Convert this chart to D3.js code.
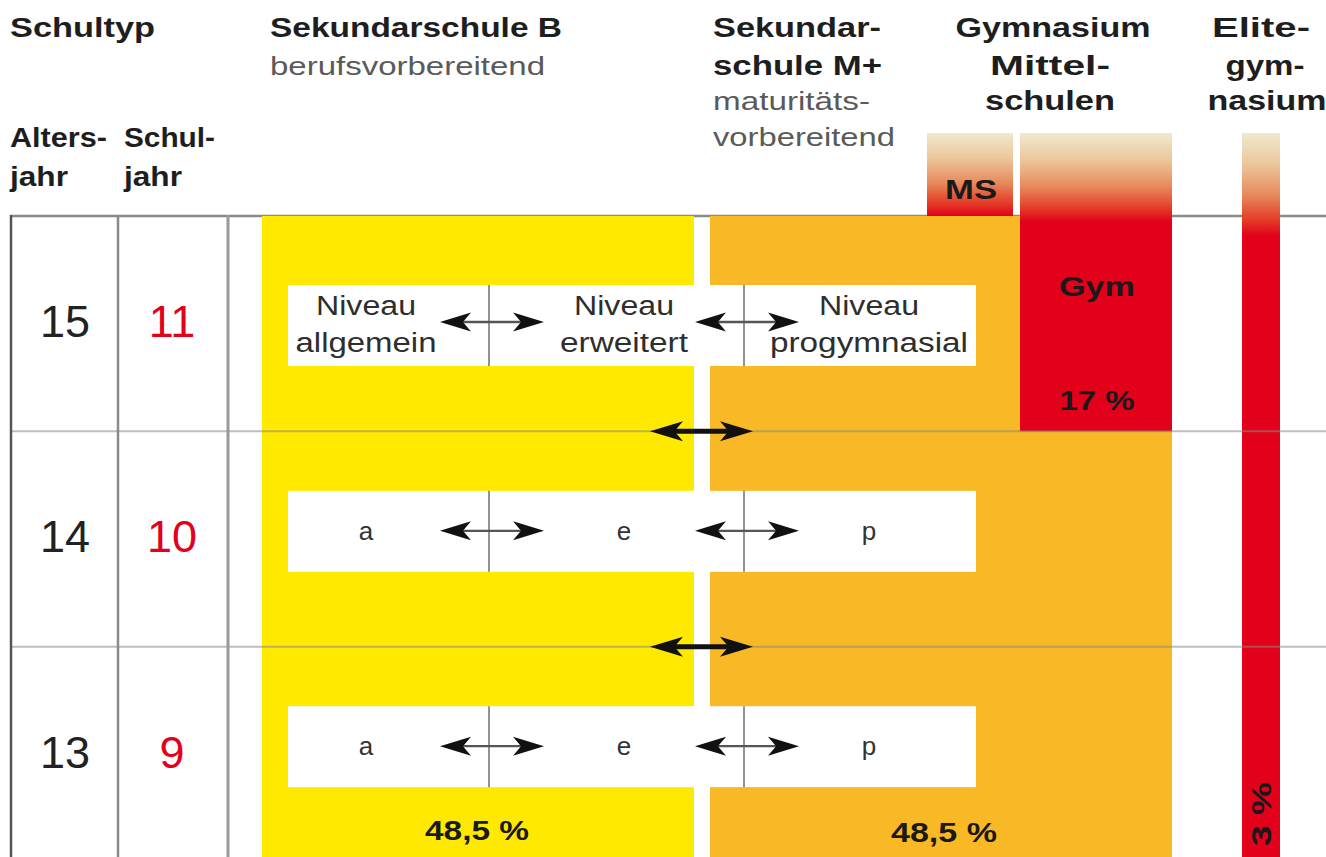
<!DOCTYPE html>
<html><head><meta charset="utf-8">
<script src="https://cdn.jsdelivr.net/npm/d3@7"></script>
<style>body{margin:0;background:#fff;overflow:hidden} svg{display:block}</style>
</head><body>
<svg id="chart" width="1326" height="857"></svg>
<script>
// ---- data ----
const ages = [15, 14, 13];
const schoolYears = [11, 10, 9];
const levelNames = [["Niveau", "allgemein"], ["Niveau", "erweitert"], ["Niveau", "progymnasial"]];
const levelShort = ["a", "e", "p"];
const schoolTypes = ["Sekundarschule B", "Sekundarschule M+", "Gymnasium", "Elitegymnasium"];
const shares = [48.5, 48.5, 17, 3];
const shareLabels = ["48,5 %", "48,5 %", "17 %", "3 %"];

// ---- setup ----
const W = 1326, H = 857;
const svg = d3.select("#chart");
const defs = svg.append("defs");
const y = d3.scaleBand().domain(ages).range([216, 862]);
const x = d3.scaleLinear().domain([0, W]).range([0, W]);

const YELLOW = "#ffe900", ORANGE = "#f9b825", RED = "#e2001a";
const FONT = "'Liberation Sans', Arial, Helvetica, sans-serif";

function grad(id, y1, y2) {
  const g = defs.append("linearGradient").attr("id", id)
    .attr("gradientUnits", "userSpaceOnUse")
    .attr("x1", 0).attr("x2", 0).attr("y1", y1).attr("y2", y2);
  [[0, "#f0e9cf"], [0.3, "#ecc79c"], [0.6, "#e78a5c"], [0.85, "#e43a26"], [1, RED]]
    .forEach(([o, c]) => g.append("stop").attr("offset", o).attr("stop-color", c));
}
grad("gMS", 133, 216);
grad("gGym", 133, 222);
grad("gElite", 133, 236);

// column geometry
const colB = { x0: 262, x1: 694 };
const colM = { x0: 710, x1: 1172 };
const colMS = { x0: 927, x1: 1013, top: 133 };
const colGym = { x0: 1020, x1: 1172, top: 133 };
const colElite = { x0: 1242, x1: 1280, top: 133 };
const rowTop = y(ages[0]);

// top line
svg.append("line").attr("x1", 10).attr("x2", W).attr("y1", rowTop).attr("y2", rowTop)
  .attr("stroke", "#8a8a8a").attr("stroke-width", 2.5);

// Sekundarschule B (yellow) & M+ (orange)
svg.append("rect").attr("x", x(colB.x0)).attr("y", rowTop)
  .attr("width", x(colB.x1) - x(colB.x0)).attr("height", H - rowTop).attr("fill", YELLOW);
svg.append("rect").attr("x", x(colM.x0)).attr("y", rowTop)
  .attr("width", x(colM.x1) - x(colM.x0)).attr("height", H - rowTop).attr("fill", ORANGE);

// MS box
svg.append("rect").attr("x", x(colMS.x0)).attr("y", colMS.top)
  .attr("width", x(colMS.x1) - x(colMS.x0)).attr("height", rowTop - colMS.top).attr("fill", "url(#gMS)");
// Gym box (covers age 15 row)
svg.append("rect").attr("x", x(colGym.x0)).attr("y", colGym.top)
  .attr("width", x(colGym.x1) - x(colGym.x0))
  .attr("height", y(ages[0]) + y.bandwidth() - colGym.top).attr("fill", "url(#gGym)");
// Elite bar
svg.append("rect").attr("x", x(colElite.x0)).attr("y", colElite.top)
  .attr("width", x(colElite.x1) - x(colElite.x0)).attr("height", H - colElite.top).attr("fill", "url(#gElite)");

// row lines
ages.slice(1).forEach(a => {
  svg.append("line").attr("x1", 10).attr("x2", W).attr("y1", y(a)).attr("y2", y(a))
    .attr("stroke", "#888").attr("stroke-opacity", 0.55).attr("stroke-width", 2);
});
// left vertical lines
[[11, "#555", 2.5], [118, "#8a8a8a", 2.5], [228, "#9a9a9a", 3]].forEach(([vx, c, w]) => {
  svg.append("line").attr("x1", vx).attr("x2", vx).attr("y1", rowTop - 1).attr("y2", H)
    .attr("stroke", c).attr("stroke-width", w);
});

// arrow helper
function dblArrow(xa, xb, yy, L, h, sw, col) {
  const g = svg.append("g");
  g.append("line").attr("x1", xa + L * 0.5).attr("x2", xb - L * 0.5).attr("y1", yy).attr("y2", yy)
    .attr("stroke", col).attr("stroke-width", sw);
  const n = 0.74;
  g.append("path").attr("d", `M${xa},${yy} Q${xa + L * 0.55},${yy - h * 0.55} ${xa + L},${yy - h} L${xa + L * n},${yy} L${xa + L},${yy + h} Q${xa + L * 0.55},${yy + h * 0.55} ${xa},${yy} Z`).attr("fill", "#111");
  g.append("path").attr("d", `M${xb},${yy} Q${xb - L * 0.55},${yy - h * 0.55} ${xb - L},${yy - h} L${xb - L * n},${yy} L${xb - L},${yy + h} Q${xb - L * 0.55},${yy + h * 0.55} ${xb},${yy} Z`).attr("fill", "#111");
}

// text helper
function txt(t, tx, ty, size, opts) {
  const o = opts || {};
  const el = svg.append("text").attr("x", tx).attr("y", ty).attr("text-anchor", o.anchor || "middle")
    .attr("font-family", FONT).attr("font-weight", o.bold ? "bold" : "normal")
    .attr("font-size", size).attr("fill", o.fill || "#1a1a1a").text(t);
  if (o.w) el.attr("textLength", o.w).attr("lengthAdjust", "spacingAndGlyphs");
  if (o.transform) el.attr("transform", o.transform);
  return el;
}

// level boxes
const boxX0 = 288, boxX1 = 976;
const dividers = [489, 744];
const levelCenters = [366, 624, 869];
const levelWidths = [[100, 141], [100, 128], [100, 198]];
ages.forEach((a, i) => {
  const top = y(a) + (i === 0 ? 69 : 59.5);
  const bh = 81;
  svg.append("rect").attr("x", x(boxX0)).attr("y", top).attr("width", x(boxX1) - x(boxX0))
    .attr("height", bh).attr("fill", "#fff");
  dividers.forEach(dx => svg.append("line").attr("x1", dx).attr("x2", dx)
    .attr("y1", top).attr("y2", top + bh).attr("stroke", "#777").attr("stroke-width", 1.6));
  const ay = top + (i === 0 ? 37 : 40);
  dividers.forEach(dx => dblArrow(dx - 49, dx + 55, ay, 31, 9.5, 2.4, "#555"));
  if (i === 0) {
    levelNames.forEach((ln, j) => {
      txt(ln[0], levelCenters[j], top + 30, 27, { fill: "#2e2e2e", w: levelWidths[j][0] });
      txt(ln[1], levelCenters[j], top + 67, 27, { fill: "#2e2e2e", w: levelWidths[j][1] });
    });
  } else {
    levelShort.forEach((s, j) => txt(s, levelCenters[j], top + 49, 26, { fill: "#333" }));
  }
});

// big arrows between rows (B <-> M+)
ages.slice(1).forEach(a => dblArrow(650, 753, y(a), 33, 10, 5, "#111"));

// age & school year numbers
ages.forEach((a, i) => {
  const base = y(a) + 121;
  txt(a, 65, base, 45, { fill: "#222" });
  txt(schoolYears[i], 172, base, 45, { fill: RED });
});

// share labels
txt(shareLabels[0], 477, 840, 27, { bold: true, w: 104 });
txt(shareLabels[1], 944, 842, 27, { bold: true, w: 106 });
txt("Gym", (colGym.x0 + colGym.x1) / 2 + 1, 296, 28, { bold: true, w: 76 });
txt(shareLabels[2], (colGym.x0 + colGym.x1) / 2 + 1, 410, 27, { bold: true, w: 75 });
txt("MS", (colMS.x0 + colMS.x1) / 2 + 1, 199, 27, { bold: true, w: 52 });
txt(shareLabels[3], 0, 0, 27, { bold: true, w: 64,
  transform: `translate(${(colElite.x0 + colElite.x1) / 2 + 10},814) rotate(-90)` });

// headers
const headers = [
  ["Schultyp", 10, 37, "start", true, 145],
  ["Sekundarschule B", 270, 37, "start", true, 292],
  ["berufsvorbereitend", 270, 75, "start", false, 275],
  ["Sekundar-", 713, 37, "start", true, 168],
  ["schule M+", 713, 75, "start", true, 169],
  ["maturitäts-", 713, 110, "start", false, 157],
  ["vorbereitend", 713, 146, "start", false, 182],
  ["Gymnasium", 1053, 37, "middle", true, 195],
  ["Mittel-", 1050, 75, "middle", true, 120],
  ["schulen", 1050, 110, "middle", true, 130],
  ["Elite-", 1261, 37, "middle", true, 98],
  ["gym-", 1265, 75, "middle", true, 79],
  ["nasium", 1267, 110, "middle", true, 119],
  ["Alters-", 10, 147, "start", true, 97],
  ["jahr", 10, 186, "start", true, 58],
  ["Schul-", 124, 147, "start", true, 91],
  ["jahr", 124, 186, "start", true, 58]
];
headers.forEach(([t, hx, hy, anc, isBold, w]) => {
  txt(t, hx, hy, isBold ? 28 : 25, { anchor: anc, bold: isBold, w: w,
    fill: isBold ? "#1e1e1e" : "#5a5a5a" });
});
</script>
</body></html>
